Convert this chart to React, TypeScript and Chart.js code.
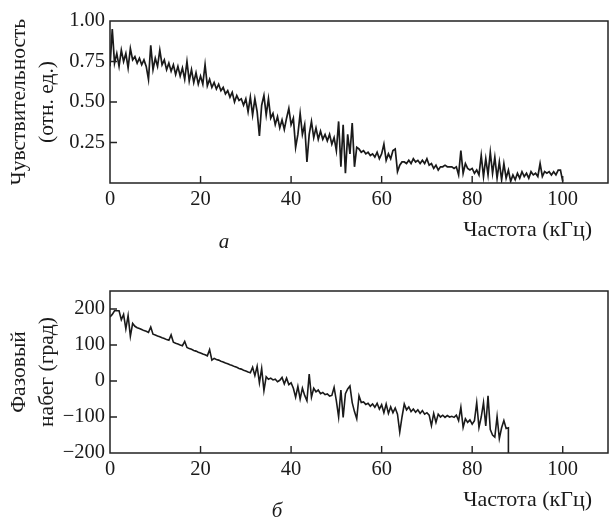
import { useEffect, useRef } from "react";
import Chart from "chart.js/auto";

// ---- Panel (а): sensitivity vs frequency ----
const topFreq: number[] = [
  0, 0.5, 1, 1.5, 2, 2.5, 3, 3.5, 4, 4.5,
  5, 5.5, 6, 6.5, 7, 7.5, 8, 8.5, 9, 9.5,
  10, 10.5, 11, 11.5, 12, 12.5, 13, 13.5, 14, 14.5,
  15, 15.5, 16, 16.5, 17, 17.5, 18, 18.5, 19, 19.5,
  20, 20.5, 21, 21.5, 22, 22.5, 23, 23.5, 24, 24.5,
  25, 25.5, 26, 26.5, 27, 27.5, 28, 28.5, 29, 29.5,
  30, 30.5, 31, 31.5, 32, 32.5, 33, 33.5, 34, 34.5,
  35, 35.5, 36, 36.5, 37, 37.5, 38, 38.5, 39, 39.5,
  40, 40.5, 41, 41.5, 42, 42.5, 43, 43.5, 44, 44.5,
  45, 45.5, 46, 46.5, 47, 47.5, 48, 48.5, 49, 49.5,
  50, 50.5, 51, 51.5, 52, 52.5, 53, 53.5, 54, 54.5,
  55, 55.5, 56, 56.5, 57, 57.5, 58, 58.5, 59, 59.5,
  60, 60.5, 61, 61.5, 62, 62.5, 63, 63.5, 64, 64.5,
  65, 65.5, 66, 66.5, 67, 67.5, 68, 68.5, 69, 69.5,
  70, 70.5, 71, 71.5, 72, 72.5, 73, 73.5, 74, 74.5,
  75, 75.5, 76, 76.5, 77, 77.5, 78, 78.5, 79, 79.5,
  80, 80.5, 81, 81.5, 82, 82.5, 83, 83.5, 84, 84.5,
  85, 85.5, 86, 86.5, 87, 87.5, 88, 88.5, 89, 89.5,
  90, 90.5, 91, 91.5, 92, 92.5, 93, 93.5, 94, 94.5,
  95, 95.5, 96, 96.5, 97, 97.5, 98, 98.5, 99, 99.5,
  100,
];
const topSens: number[] = [
  0.72, 0.95, 0.74, 0.80, 0.72, 0.82, 0.75, 0.80, 0.71, 0.83,
  0.76, 0.78, 0.74, 0.77, 0.73, 0.76, 0.72, 0.64, 0.85, 0.70,
  0.77, 0.72, 0.82, 0.73, 0.76, 0.70, 0.74, 0.69, 0.73, 0.67,
  0.72, 0.66, 0.71, 0.64, 0.75, 0.63, 0.70, 0.62, 0.68, 0.61,
  0.66, 0.61, 0.73, 0.60, 0.64, 0.59, 0.62, 0.58, 0.61, 0.57,
  0.59, 0.55, 0.57, 0.53, 0.56, 0.50, 0.54, 0.51, 0.52, 0.48,
  0.52, 0.44, 0.53, 0.42, 0.52, 0.44, 0.29, 0.48, 0.54, 0.42,
  0.52, 0.40, 0.43, 0.36, 0.41, 0.34, 0.39, 0.33, 0.40, 0.46,
  0.36, 0.40, 0.22, 0.30, 0.43, 0.30, 0.36, 0.13, 0.30, 0.38,
  0.28, 0.34, 0.27, 0.32, 0.27, 0.30, 0.26, 0.30, 0.24, 0.28,
  0.20, 0.38, 0.10, 0.36, 0.06, 0.30, 0.18, 0.37, 0.10, 0.22,
  0.21, 0.19, 0.20, 0.18, 0.19, 0.17, 0.18, 0.16, 0.19, 0.15,
  0.18, 0.24, 0.14, 0.18, 0.15, 0.20, 0.21, 0.07, 0.11, 0.13,
  0.13, 0.12, 0.14, 0.12, 0.15, 0.13, 0.14, 0.12, 0.14, 0.12,
  0.15, 0.11, 0.12, 0.09, 0.11, 0.08, 0.10, 0.10, 0.11, 0.10,
  0.10, 0.10, 0.09, 0.10, 0.05, 0.20, 0.06, 0.12, 0.09, 0.08,
  0.09, 0.06, 0.08, 0.05, 0.17, 0.04, 0.15, 0.05, 0.19, 0.06,
  0.16, 0.03, 0.13, 0.02, 0.12, 0.03, 0.08, 0.01, 0.05, 0.02,
  0.06, 0.03, 0.07, 0.04, 0.06, 0.03, 0.07, 0.05, 0.06, 0.04,
  0.12, 0.04, 0.07, 0.06, 0.07, 0.05, 0.07, 0.05, 0.08, 0.08,
  0.01,
];

// ---- Panel (б): phase vs frequency ----
const botFreq: number[] = [
  0, 0.5, 1, 1.5, 2, 2.5, 3, 3.5, 4, 4.5,
  5, 5.5, 6, 6.5, 7, 7.5, 8, 8.5, 9, 9.5,
  10, 10.5, 11, 11.5, 12, 12.5, 13, 13.5, 14, 14.5,
  15, 15.5, 16, 16.5, 17, 17.5, 18, 18.5, 19, 19.5,
  20, 20.5, 21, 21.5, 22, 22.5, 23, 23.5, 24, 24.5,
  25, 25.5, 26, 26.5, 27, 27.5, 28, 28.5, 29, 29.5,
  30, 30.5, 31, 31.5, 32, 32.5, 33, 33.5, 34, 34.5,
  35, 35.5, 36, 36.5, 37, 37.5, 38, 38.5, 39, 39.5,
  40, 40.5, 41, 41.5, 42, 42.5, 43, 43.5, 44, 44.5,
  45, 45.5, 46, 46.5, 47, 47.5, 48, 48.5, 49, 49.5,
  50, 50.5, 51, 51.5, 52, 52.5, 53, 53.5, 54, 54.5,
  55, 55.5, 56, 56.5, 57, 57.5, 58, 58.5, 59, 59.5,
  60, 60.5, 61, 61.5, 62, 62.5, 63, 63.5, 64, 64.5,
  65, 65.5, 66, 66.5, 67, 67.5, 68, 68.5, 69, 69.5,
  70, 70.5, 71, 71.5, 72, 72.5, 73, 73.5, 74, 74.5,
  75, 75.5, 76, 76.5, 77, 77.5, 78, 78.5, 79, 79.5,
  80, 80.5, 81, 81.5, 82, 82.5, 83, 83.5, 84, 84.5,
  85, 85.5, 86, 86.5, 87, 87.5,
  88, 88,
];
const botPhase: number[] = [
  178, 185, 195, 195, 195, 170, 185, 145, 182, 124,
  160, 152, 148, 146, 143, 140, 138, 135, 150, 130,
  128, 125, 123, 120, 118, 115, 113, 128, 108, 105,
  103, 100, 98, 110, 93, 90, 88, 85, 83, 80,
  78, 75, 73, 70, 87, 58, 63, 60, 58, 55,
  53, 50, 48, 45, 43, 40, 38, 35, 33, 30,
  28, 25, 23, 38, 15, 41, -5, 35, -27, 12,
  5, 8, 3, 5, -2, 2, 10, -8, 8, -10,
  -5, -20, -45, -15, -50, -20, -40, -55, 19, -45,
  -20, -30, -25, -35, -32, -38, -36, -42, -40, -18,
  -55, -100, -25, -101, -35, -22, -14, -60, -85, -105,
  -41, -60, -58, -65, -62, -70, -64, -73, -62, -78,
  -66, -88, -64, -90, -72, -88, -75, -92, -142, -100,
  -64, -80, -72, -85, -78, -87, -80, -90, -82, -92,
  -88, -95, -124, -90, -115, -92, -100, -95, -101, -96,
  -100, -98, -101, -95, -110, -73, -129, -105, -115, -108,
  -120, -110, -60, -129, -100, -60, -125, -41, -135, -150,
  -156, -99, -160, -130, -110, -132,
  -130, -200,
];

// ---- Tick labels ----
const xTickValues: number[] = [0, 20, 40, 60, 80, 100];
const topYTickValues: number[] = [0.25, 0.5, 0.75, 1.0];
const botYTickValues: number[] = [-200, -100, 0, 100, 200];

const FONT = '"Liberation Serif", "Times New Roman", serif';
const INK = "#1a1a1a";

type PanelText = {
  yLines: string[];
  xTitle: string;
  caption: string;
  xTitleY: number;
  captionX: number;
  captionY: number;
};

function framePlugin(t: PanelText) {
  return {
    id: "frameAndText",
    afterDatasetsDraw(chart: any) {
      const { ctx, chartArea: a, scales } = chart;
      ctx.save();
      ctx.strokeStyle = "#222";
      ctx.lineWidth = 1.5;
      ctx.strokeRect(a.left, a.top, a.right - a.left, a.bottom - a.top);
      ctx.lineWidth = 1.4;
      ctx.beginPath();
      scales.x.ticks.forEach((tk: any) => {
        const px = scales.x.getPixelForValue(tk.value);
        if (px > a.left + 1 && px < a.right - 1) {
          ctx.moveTo(px, a.bottom);
          ctx.lineTo(px, a.bottom - 7);
        }
      });
      scales.y.ticks.forEach((tk: any) => {
        const py = scales.y.getPixelForValue(tk.value);
        if (py > a.top + 1 && py < a.bottom - 1) {
          ctx.moveTo(a.left, py);
          ctx.lineTo(a.left + 7, py);
        }
      });
      ctx.stroke();

      ctx.fillStyle = INK;
      ctx.font = `21.5px ${FONT}`;
      const cy = (a.top + a.bottom) / 2;
      const xs = [19, 47];
      t.yLines.forEach((line, i) => {
        ctx.save();
        ctx.translate(xs[i], cy);
        ctx.rotate(-Math.PI / 2);
        ctx.textAlign = "center";
        ctx.textBaseline = "middle";
        ctx.fillText(line, 0, 0);
        ctx.restore();
      });
      ctx.font = `22px ${FONT}`;
      ctx.textAlign = "right";
      ctx.textBaseline = "middle";
      ctx.fillText(t.xTitle, 592, t.xTitleY);
      ctx.font = `italic 21px ${FONT}`;
      ctx.textAlign = "center";
      ctx.textBaseline = "alphabetic";
      ctx.fillText(t.caption, t.captionX, t.captionY);
      ctx.restore();
    },
  };
}

function makeChart(
  canvas: HTMLCanvasElement,
  xs: number[],
  ys: number[],
  yMin: number,
  yMax: number,
  yTicks: number[],
  yFmt: (v: number) => string,
  padTop: number,
  xHeight: number,
  lineW: number,
  text: PanelText
) {
  return new Chart(canvas, {
    type: "line",
    data: {
      datasets: [
        {
          data: xs.map((x, i) => ({ x, y: ys[i] })),
          borderColor: INK,
          borderWidth: lineW,
          pointRadius: 0,
          tension: 0,
          fill: false,
        },
      ],
    },
    options: {
      animation: false,
      responsive: false,
      devicePixelRatio: 1,
      layout: { padding: { top: padTop, right: 1, left: 0, bottom: 0 } },
      plugins: { legend: { display: false }, tooltip: { enabled: false } },
      scales: {
        x: {
          type: "linear",
          min: 0,
          max: 110,
          grid: { display: false, drawTicks: false },
          border: { display: false },
          afterBuildTicks: (s: any) => {
            s.ticks = xTickValues.map((v) => ({ value: v }));
          },
          afterFit: (s: any) => {
            s.height = xHeight;
          },
          ticks: {
            padding: 4,
            autoSkip: false,
            maxRotation: 0,
            color: INK,
            font: { family: FONT, size: 20.5 },
            callback: (v: any) => String(v),
          },
        },
        y: {
          type: "linear",
          min: yMin,
          max: yMax,
          grid: { display: false, drawTicks: false },
          border: { display: false },
          afterBuildTicks: (s: any) => {
            s.ticks = yTicks.map((v) => ({ value: v }));
          },
          afterFit: (s: any) => {
            s.width = 110;
          },
          ticks: {
            padding: 5,
            autoSkip: false,
            color: INK,
            font: { family: FONT, size: 20.5 },
            callback: (v: any) => yFmt(Number(v)),
          },
        },
      },
    },
    plugins: [framePlugin(text)],
  } as any);
}

export default function App() {
  const topRef = useRef<HTMLCanvasElement>(null);
  const botRef = useRef<HTMLCanvasElement>(null);

  useEffect(() => {
    const c1 = makeChart(
      topRef.current!,
      topFreq,
      topSens,
      0,
      1,
      topYTickValues,
      (v) => v.toFixed(2),
      21,
      76,
      1.7,
      {
        yLines: ["Чувствительность", "(отн. ед.)"],
        xTitle: "Частота (кГц)",
        caption: "а",
        xTitleY: 230,
        captionX: 224,
        captionY: 248,
      }
    );
    const c2 = makeChart(
      botRef.current!,
      botFreq,
      botPhase,
      -200,
      250,
      botYTickValues,
      (v) => (v < 0 ? "\u2212" + Math.abs(v) : String(v)),
      32,
      65,
      1.6,
      {
        yLines: ["Фазовый", "набег (град)"],
        xTitle: "Частота (кГц)",
        caption: "б",
        xTitleY: 241,
        captionX: 277,
        captionY: 258,
      }
    );
    return () => {
      c1.destroy();
      c2.destroy();
    };
  }, []);

  return (
    <div
      style={{
        position: "fixed",
        left: 0,
        top: 0,
        width: 609,
        height: 518,
        background: "#fff",
      }}
    >
      <canvas ref={topRef} width={609} height={259} style={{ display: "block" }} />
      <canvas ref={botRef} width={609} height={259} style={{ display: "block" }} />
    </div>
  );
}
